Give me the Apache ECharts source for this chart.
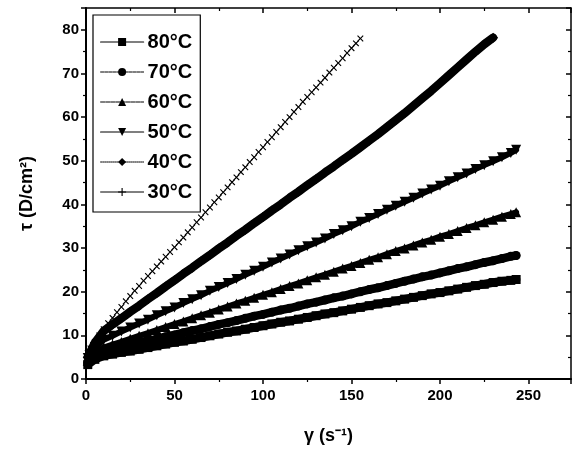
<!DOCTYPE html>
<html>
<head>
<meta charset="utf-8">
<script src="https://cdn.jsdelivr.net/npm/echarts@6/dist/echarts.min.js"></script>
<style>
html,body{margin:0;padding:0;background:#fff;}
#chart{width:572px;height:455px;}
</style>
</head>
<body>
<div id="chart"></div>
<script>
// Shear rate values (s^-1) for the 80..40°C series
var gammaMain = [1,5,10,15,20,25,30,35,40,45,50,55,60,65,70,75,80,85,90,95,100,105,110,115,120,125,130,135,140,145,150,155,160,165,170,175,180,185,190,195,200,205,210,215,220,225,230,235,240,243];
// Shear rate values for 30°C
var gamma30 = [1,2.5,5,7.5,10,12.5,15,17.5,20,22.5,25,27.5,30,32.5,35,37.5,40,42.5,45,47.5,50,52.5,55,57.5,60,62.5,65,67.5,70,72.5,75,77.5,80,82.5,85,87.5,90,92.5,95,97.5,100,102.5,105,107.5,110,112.5,115,117.5,120,122.5,125,127.5,130,132.5,135,137.5,140,142.5,145,147.5,150,152.5,155];

var tau80 = [3.3,4.5,5.3,5.7,6.1,6.4,6.8,7.2,7.6,8.0,8.4,8.7,9.1,9.5,9.9,10.3,10.7,11.0,11.4,11.8,12.2,12.6,13.0,13.3,13.7,14.1,14.5,14.9,15.2,15.6,16.0,16.4,16.8,17.2,17.5,17.9,18.3,18.7,19.1,19.5,19.8,20.2,20.6,21.0,21.4,21.7,22.1,22.4,22.6,22.8];
var tau70 = [3.8,5.2,6.3,6.8,7.3,7.8,8.3,8.7,9.2,9.7,10.1,10.6,11.1,11.5,12.0,12.5,12.9,13.4,13.9,14.4,14.8,15.3,15.8,16.2,16.7,17.2,17.6,18.1,18.6,19.0,19.5,20.0,20.5,20.9,21.4,21.9,22.4,22.9,23.4,23.8,24.3,24.8,25.3,25.7,26.2,26.7,27.1,27.6,28.1,28.3];
var tau60 = [4.2,5.8,7.2,7.9,8.5,9.2,9.9,10.5,11.2,11.9,12.6,13.2,13.9,14.6,15.2,15.9,16.6,17.3,17.9,18.6,19.3,19.9,20.6,21.3,21.9,22.6,23.3,23.9,24.6,25.3,25.9,26.6,27.3,27.9,28.6,29.3,29.9,30.6,31.3,31.9,32.6,33.2,33.9,34.6,35.2,35.9,36.5,37.2,37.8,38.2];
var tau50 = [4.8,7.0,9.0,9.9,10.9,11.8,12.7,13.6,14.6,15.5,16.4,17.4,18.3,19.2,20.2,21.1,22.0,22.9,23.9,24.8,25.7,26.7,27.6,28.5,29.5,30.4,31.3,32.2,33.2,34.1,35.0,36.0,36.9,37.8,38.8,39.7,40.6,41.5,42.5,43.4,44.3,45.3,46.2,47.1,48.1,49.0,49.9,50.8,51.8,52.5];
var tau40 = [5.0,8.3,11.0,12.5,13.9,15.4,16.8,18.3,19.7,21.2,22.6,24.1,25.5,27.0,28.4,29.9,31.3,32.8,34.2,35.7,37.1,38.6,40.0,41.5,42.9,44.4,45.8,47.3,48.7,50.2,51.6,53.1,54.6,56.1,57.7,59.3,60.9,62.6,64.3,66.0,67.8,69.6,71.4,73.2,75.0,76.7,78.2];
var tau30 = [6.0,7.0,8.5,10.0,11.4,12.8,14.0,15.3,16.5,17.8,19.0,20.2,21.3,22.5,23.6,24.7,25.8,26.9,28.0,29.1,30.2,31.3,32.4,33.6,34.7,35.9,37.0,38.2,39.3,40.5,41.6,42.8,43.9,45.1,46.2,47.4,48.5,49.7,50.8,52.0,53.1,54.3,55.4,56.6,57.7,58.9,60.0,61.2,62.3,63.5,64.6,65.7,66.8,67.9,69.0,70.2,71.3,72.4,73.5,74.7,75.8,76.9,78.0];

var seriesNames = ['80°C','70°C','60°C','50°C','40°C','30°C'];
var xTicks = [0,50,100,150,200,250];
var yTicks = [0,10,20,30,40,50,60,70,80];

function pairs(xs, ys){ var out=[]; for (var i=0;i<ys.length;i++){ out.push([xs[i], ys[i]]); } return out; }

var plusPath = 'path://M4.3,0H5.7V4.3H10V5.7H5.7V10H4.3V5.7H0V4.3H4.3Z';
var downTri = 'path://M0,0L10,0L5,9Z';

var chart = echarts.init(document.getElementById('chart'), null, {renderer:'canvas'});
var font = 'Liberation Sans, Arial, sans-serif';
var legendFont = 'Liberation Sans Narrow, Liberation Sans, Arial, sans-serif';

function band(name, xs, ys, sym, size, lw){
  return {
    name: name, type: 'line', data: pairs(xs, ys),
    symbol: sym, symbolSize: size, showSymbol: true,
    lineStyle: {color:'#000', width: lw, cap:'round', join:'round'},
    itemStyle: {color:'#000', borderWidth:0},
    animation: false, silent: true
  };
}

var s30 = band('30°C', gamma30, tau30, plusPath, 8, 0.6);
s30.symbolRotate = 45;

chart.setOption({
  backgroundColor: '#fff',
  animation: false,
  grid: {left: 86, top: 8, right: 1, bottom: 76, containLabel: false},
  legend: {
    orient: 'vertical', left: 93, top: 15,
    padding: [17, 8, 10, 7],
    borderColor: '#000', borderWidth: 1.2, backgroundColor: '#fff',
    itemWidth: 43, itemHeight: 10, itemGap: 10,
    symbolRotate: 0,
    textStyle: {fontFamily: legendFont, fontSize: 20, fontWeight: 'bold', color: '#000', lineHeight: 20, padding:[0,0,0,-1]},
    lineStyle: {width: 1, color:'#000'},
    data: [
      {name:'80°C', lineStyle:{width:1.2, type:'solid'}},
      {name:'70°C', lineStyle:{width:1, type:[3,1]}},
      {name:'60°C', lineStyle:{width:1, type:[4,1]}},
      {name:'50°C', lineStyle:{width:1.2, type:'solid'}},
      {name:'40°C', lineStyle:{width:1, type:[1,1]}},
      {name:'30°C', lineStyle:{width:1, type:'solid'}}
    ]
  },
  xAxis: [{
    type: 'value', min: 0, max: 274, interval: 50, position: 'bottom',
    name: 'γ (s⁻¹)', nameLocation: 'middle', nameGap: 48,
    nameTextStyle: {fontFamily: font, fontSize: 18, fontWeight: 'bold', color:'#000'},
    axisLine: {show: true, onZero: false, lineStyle: {color:'#000', width: 2}},
    axisTick: {show: true, inside: false, length: 5, lineStyle:{color:'#000', width:1.5}},
    minorTick: {show: true, splitNumber: 2, length: 3, lineStyle:{color:'#000', width:1.2}},
    axisLabel: {fontFamily: legendFont, fontSize: 15, fontWeight: 'bold', color: '#000', margin: 9, showMaxLabel: false},
    splitLine: {show: false}
  },{
    type: 'value', min: 0, max: 274, interval: 50, position: 'top',
    axisLine: {show: true, onZero: false, lineStyle: {color:'#000', width: 1.5}},
    axisTick: {show: true, inside: true, length: 5, lineStyle:{color:'#000', width:1.5}},
    minorTick: {show: true, splitNumber: 2, length: 3, lineStyle:{color:'#000', width:1.2}},
    axisLabel: {show: false}, splitLine: {show: false}
  }],
  yAxis: [{
    type: 'value', min: 0, max: 85, interval: 10, position: 'left',
    name: 'τ (D/cm²)', nameLocation: 'middle', nameGap: 50, nameRotate: 90,
    nameTextStyle: {fontFamily: font, fontSize: 18, fontWeight: 'bold', color:'#000'},
    axisLine: {show: true, onZero: false, lineStyle: {color:'#000', width: 2}},
    axisTick: {show: true, inside: false, length: 5, lineStyle:{color:'#000', width:1.5}},
    minorTick: {show: true, splitNumber: 2, length: 3, lineStyle:{color:'#000', width:1.2}},
    axisLabel: {fontFamily: legendFont, fontSize: 15, fontWeight: 'bold', color: '#000', margin: 7, showMaxLabel: false},
    splitLine: {show: false}
  },{
    type: 'value', min: 0, max: 85, interval: 10, position: 'right',
    axisLine: {show: true, onZero: false, lineStyle: {color:'#000', width: 1.5}},
    axisTick: {show: true, inside: true, length: 5, lineStyle:{color:'#000', width:1.5}},
    minorTick: {show: true, splitNumber: 2, length: 3, lineStyle:{color:'#000', width:1.2}},
    axisLabel: {show: false}, splitLine: {show: false}
  }],
  series: [
    band('80°C', gammaMain, tau80, 'rect', 9, 8.5),
    band('70°C', gammaMain, tau70, 'circle', 9, 8.5),
    band('60°C', gammaMain, tau60, 'triangle', 10, 6),
    band('50°C', gammaMain, tau50, downTri, 10, 6),
    band('40°C', gammaMain, tau40, 'diamond', 10, 8.5),
    s30
  ]
});
</script>
</body>
</html>
